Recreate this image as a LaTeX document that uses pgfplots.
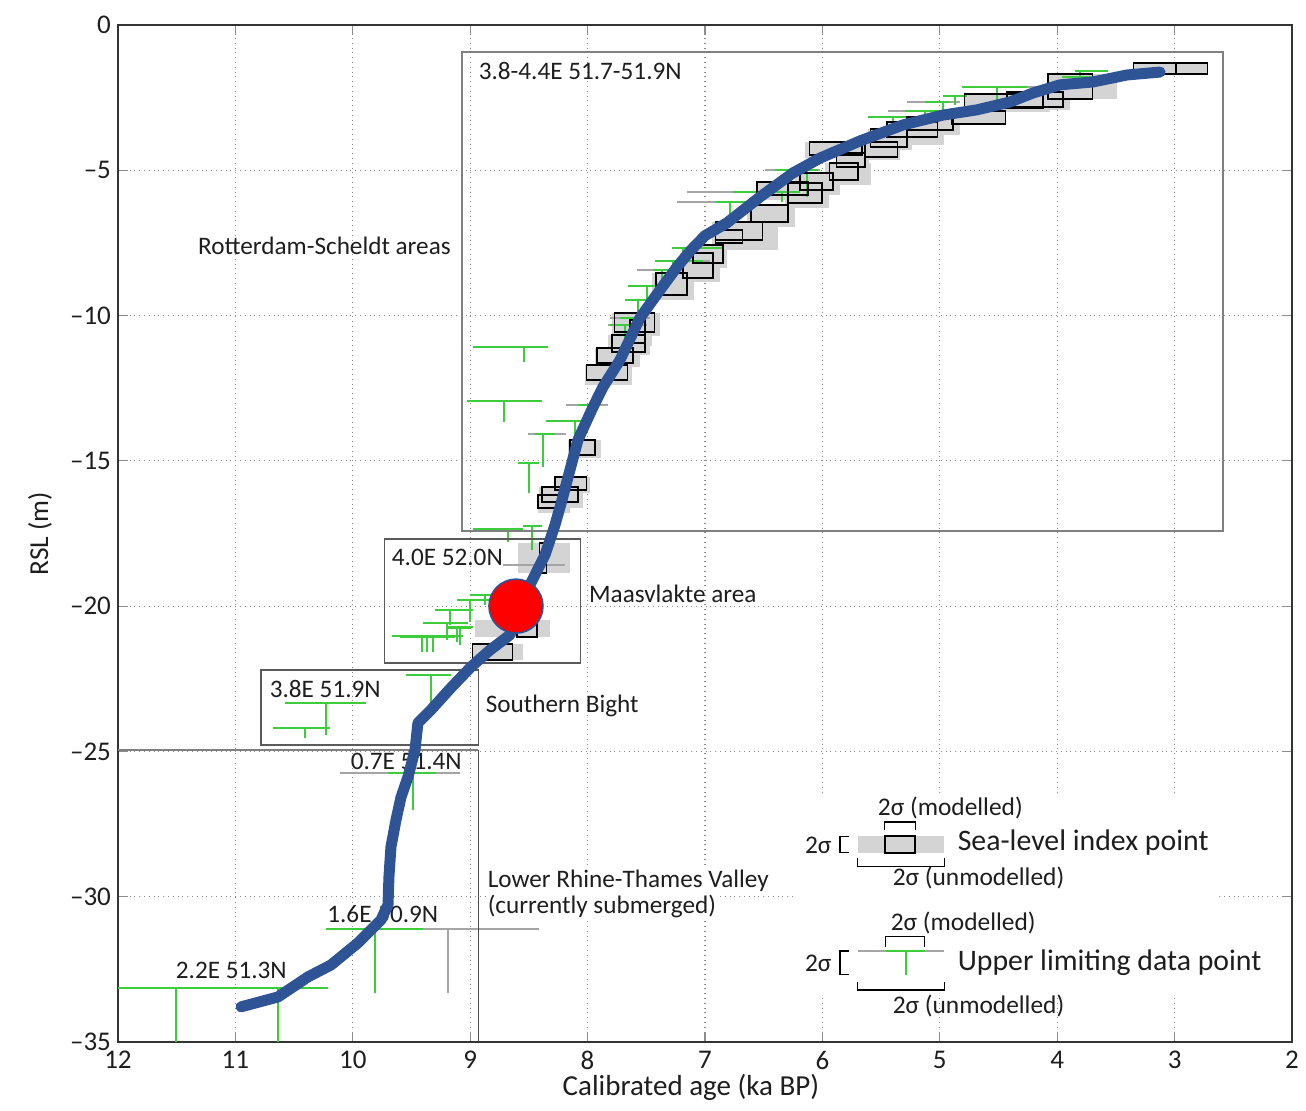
\documentclass[border=0pt]{standalone}
\usepackage{fontspec}
\setmainfont{Carlito}
\usepackage{pgfplots}
\usepackage{pgfplotstable}
\pgfplotsset{compat=1.18}

\definecolor{slipfill}{RGB}{212,212,212}
\definecolor{limitgreen}{RGB}{60,205,60}
\definecolor{unmodgray}{RGB}{165,165,165}
\definecolor{curveblue}{RGB}{47,84,150}
\definecolor{framegray}{RGB}{128,128,128}
\definecolor{txt}{RGB}{30,30,30}

% Sea-level index points, modelled 2-sigma boxes: age range (ka BP), RSL range (m)
\pgfplotstableread{
a1    a2    r1      r2
3.35  2.99  -1.31   -1.69
2.99  2.72  -1.31   -1.69
4.08  3.70  -1.69   -2.55
4.43  3.95  -2.31   -2.82
4.79  4.12  -2.37   -2.86
4.90  4.44  -2.96   -3.41
5.28  4.89  -3.17   -3.61
5.45  5.02  -3.34   -3.85
5.59  5.28  -3.58   -4.20
5.64  5.36  -4.03   -4.54
6.11  5.66  -4.03   -4.47
5.88  5.64  -4.40   -4.89
5.94  5.70  -4.75   -5.33
6.19  5.91  -5.09   -5.68
6.29  6.00  -5.44   -6.13
6.56  6.12  -5.40   -5.85
6.61  6.29  -6.19   -6.78
6.91  6.51  -6.78   -7.40
6.91  6.68  -7.05   -7.50
7.10  6.85  -7.57   -8.19
7.19  6.93  -7.85   -8.71
7.42  7.15  -8.53   -9.29
7.64  7.51  -10.15  -10.94
7.77  7.43  -9.91   -10.56
7.79  7.51  -10.67  -11.25
7.92  7.61  -11.12  -11.63
8.01  7.66  -11.70  -12.22
8.15  7.94  -14.28  -14.80
8.28  8.01  -15.55  -16.00
8.39  8.08  -15.90  -16.41
8.42  8.22  -16.17  -16.62
8.41  8.35  -17.83  -18.86
8.60  8.43  -20.58  -21.06
8.98  8.64  -21.30  -21.85
}\modbox

% Sea-level index points, unmodelled 2-sigma age ranges
\pgfplotstableread{
a1    a2    r1      r2
3.35  2.72  -1.31   -1.69
4.08  3.49  -1.69   -2.55
4.43  3.89  -2.31   -2.92
4.79  4.06  -2.37   -2.99
4.90  4.44  -2.96   -3.41
5.28  4.83  -3.17   -3.79
5.45  4.96  -3.34   -4.13
5.61  5.24  -3.58   -4.30
5.68  5.34  -4.03   -4.65
6.15  5.64  -4.03   -4.58
5.88  5.60  -4.40   -4.95
5.98  5.59  -4.75   -5.51
6.23  5.85  -5.09   -5.85
6.32  5.94  -5.44   -6.30
6.56  6.06  -5.40   -6.02
6.64  6.23  -6.19   -6.95
6.94  6.38  -6.78   -7.74
6.91  6.62  -7.05   -7.60
7.13  6.81  -7.57   -8.36
7.21  6.87  -7.85   -8.84
7.45  7.09  -8.53   -9.46
7.64  7.45  -10.15  -11.05
7.79  7.38  -9.91   -10.70
7.83  7.47  -10.67  -11.36
7.94  7.55  -11.12  -11.77
8.02  7.62  -11.70  -12.39
8.17  7.89  -14.28  -14.90
8.28  7.98  -15.55  -16.10
8.41  8.04  -15.90  -16.62
8.42  8.15  -16.17  -16.80
8.59  8.15  -17.83  -18.86
8.96  8.32  -20.48  -21.06
8.98  8.55  -21.30  -21.85
}\unmodbox

% Upper limiting data points: unmodelled age range, modelled age range,
% age of the point, top (RSL) and lower end of the vertical bar
\pgfplotstableread{
u1     u2     m1     m2     v      top     bot
3.85   3.57   3.85   3.57   3.81   -1.58   -1.89
3.96   3.64   3.96   3.64   3.81   -1.79   -2.06
4.81   4.10   4.81   4.26   4.51   -2.13   -2.58
5.28   4.83   5.13   4.91   4.97   -2.65   -3.27
4.97   4.77   4.97   4.77   4.87   -2.44   -2.75
5.44   5.00   5.30   5.00   5.13   -2.96   -3.44
5.61   5.28   5.61   5.28   5.40   -3.17   -3.54
6.49   6.02   6.40   6.04   6.13   -4.99   -5.92
7.15   6.53   6.76   6.28   6.56   -5.75   -6.19
7.24   6.62   6.91   6.62   6.79   -6.09   -6.54
6.45   6.19   6.45   6.19   6.34   -5.75   -6.09
7.28   6.85   7.28   6.85   7.19   -7.67   -8.16
7.43   6.96   7.43   7.02   7.27   -8.12   -8.60
7.58   7.21   7.44   7.24   7.37   -8.43   -8.88
7.66   7.38   7.66   7.41   7.49   -8.98   -9.64
7.68   7.43   7.68   7.43   7.57   -9.46   -9.88
7.81   7.47   7.72   7.55   7.64   -10.08  -10.32
7.83   7.49   7.81   7.58   7.68   -10.32  -10.84
8.98   8.34   8.98   8.34   8.54   -11.08  -11.60
9.03   8.39   9.03   8.39   8.71   -12.94  -13.66
8.18   7.83   8.08   7.92   8.00   -13.08  -13.42
8.35   7.98   8.35   8.02   8.11   -13.63  -14.11
8.51   8.18   8.45   8.28   8.38   -14.07  -15.21
8.59   8.41   8.59   8.41   8.50   -15.07  -16.10
8.98   8.55   8.98   8.55   8.68   -17.34  -17.79
8.55   8.39   8.55   8.39   8.47   -17.24  -18.07
9.00   8.81   9.00   8.81   8.87   -19.61  -19.96
9.11   8.83   9.11   8.83   9.00   -19.79  -20.54
9.30   8.98   9.30   8.98   9.17   -20.13  -20.65
9.40   9.02   9.40   9.02   9.20   -20.58  -21.16
9.21   8.98   9.21   8.98   9.09   -20.71  -21.34
9.67   9.06   9.67   9.06   9.41   -21.03  -21.58
9.60   9.13   9.60   9.13   9.37   -21.06  -21.58
9.51   9.09   9.51   9.09   9.32   -21.03  -21.58
9.21   9.00   9.21   9.00   9.11   -20.75  -21.23
9.55   9.16   9.55   9.16   9.33   -22.37  -23.33
10.58  9.89   10.58  9.89   10.23  -23.33  -24.43
10.68  10.19  10.68  10.19  10.41  -24.19  -24.54
10.11  9.09   9.70   9.29   9.49   -25.74  -27.01
10.23  9.40   10.23  9.40   9.81   -31.11  -33.31
12.00  11.00  12.00  11.00  11.51  -33.14  -35.00
11.06  10.21  11.06  10.21  10.64  -33.14  -35.00
}\limitpts

% modelled RSL curve
\pgfplotstableread{
age     rsl
10.952  -33.79
10.637  -33.45
10.382  -32.76
10.186  -32.35
9.956   -31.59
9.760   -30.80
9.700   -30.28
9.692   -29.32
9.675   -28.29
9.632   -27.36
9.589   -26.57
9.530   -25.88
9.470   -24.95
9.445   -24.02
9.334   -23.57
9.164   -22.81
8.993   -22.09
8.831   -21.51
8.661   -20.99
8.610   -20.13
8.491   -19.27
8.363   -18.24
8.278   -17.21
8.218   -16.35
8.150   -15.31
8.082   -14.28
7.954   -13.15
7.869   -12.46
7.724   -11.53
7.554   -10.08
7.383   -9.12
7.239   -8.33
7.120   -7.75
7.000   -7.25
6.813   -6.81
6.532   -5.92
6.250   -5.09
6.020   -4.58
5.680   -3.99
5.313   -3.44
4.973   -3.10
4.683   -2.92
4.402   -2.65
4.206   -2.34
3.976   -2.06
3.695   -1.96
3.405   -1.72
3.124   -1.62
}\rslcurve

% one closed rectangle per table row
\newcommand\drawboxes[2]{%
  \pgfplotstablegetrowsof{#1}%
  \pgfmathtruncatemacro\lastrow{\pgfplotsretval-1}%
  \pgfplotsinvokeforeach{0,...,\lastrow}{%
    \pgfplotstablegetelem{##1}{a1}\of{#1}\let\Aone\pgfplotsretval
    \pgfplotstablegetelem{##1}{a2}\of{#1}\let\Atwo\pgfplotsretval
    \pgfplotstablegetelem{##1}{r1}\of{#1}\let\Rone\pgfplotsretval
    \pgfplotstablegetelem{##1}{r2}\of{#1}\let\Rtwo\pgfplotsretval
    \edef\next{\noexpand\addplot[\unexpanded{#2}] coordinates
      {(\Aone,\Rone) (\Atwo,\Rone) (\Atwo,\Rtwo) (\Aone,\Rtwo)} -- cycle;}%
    \next
  }%
}

% one T-shaped upper limit per table row
\newcommand\drawlimits[1]{%
  \pgfplotstablegetrowsof{#1}%
  \pgfmathtruncatemacro\lastrow{\pgfplotsretval-1}%
  \pgfplotsinvokeforeach{0,...,\lastrow}{%
    \pgfplotstablegetelem{##1}{u1}\of{#1}\let\Uone\pgfplotsretval
    \pgfplotstablegetelem{##1}{u2}\of{#1}\let\Utwo\pgfplotsretval
    \pgfplotstablegetelem{##1}{m1}\of{#1}\let\Mone\pgfplotsretval
    \pgfplotstablegetelem{##1}{m2}\of{#1}\let\Mtwo\pgfplotsretval
    \pgfplotstablegetelem{##1}{v}\of{#1}\let\Vage\pgfplotsretval
    \pgfplotstablegetelem{##1}{top}\of{#1}\let\Top\pgfplotsretval
    \pgfplotstablegetelem{##1}{bot}\of{#1}\let\Bot\pgfplotsretval
    \edef\next{%
      \noexpand\addplot[unmodgray, line width=0.7pt] coordinates {(\Uone,\Top) (\Utwo,\Top)};
      \noexpand\addplot[limitgreen, line width=1pt] coordinates {(\Mone,\Top) (\Mtwo,\Top)};
      \noexpand\addplot[limitgreen, line width=1pt] coordinates {(\Vage,\Top) (\Vage,\Bot)};}%
    \next
  }%
}

\newcommand\lblfont{\fontsize{12.6}{14}\selectfont}
\newcommand\keyfont{\fontsize{12.7}{14}\selectfont}
\newcommand\keybigfont{\fontsize{14.9}{17}\selectfont}
\newcommand\tickfont{\fontsize{13.5}{15}\selectfont}
\newcommand\axlabelfont{\fontsize{14.5}{16}\selectfont}

\begin{document}
\begin{tikzpicture}
\begin{axis}[
  at={(0,0)}, anchor=south west,
  scale only axis, width=587pt, height=508.5pt,
  x dir=reverse,
  xmin=2, xmax=12, ymin=-35, ymax=0,
  xtick={2,3,...,12},
  xticklabels={2,3,4,5,6,7,8,9,10,11,12},
  ytick={-35,-30,...,0},
  yticklabels={–35,–30,–25,–20,–15,–10,–5,0},
  tick align=inside, major tick length=5pt,
  tick style={black!45, line width=0.6pt},
  axis line style={black!80, line width=0.7pt},
  grid=major,
  major grid style={dotted, black!45, line width=0.6pt},
  ticklabel style={font=\tickfont, text=txt},
  xticklabel style={yshift=-1pt},
  /pgf/number format/assume math mode=true,
  xlabel={Calibrated age (ka BP)},
  ylabel={RSL (m)},
  xlabel style={font=\axlabelfont, text=txt, at={(axis description cs:0.488,0)}, anchor=center, yshift=-22.5pt, inner sep=0pt},
  ylabel style={font=\fontsize{13.7}{15}\selectfont, text=txt, at={(axis description cs:0,0.5)}, anchor=center, yshift=39pt, inner sep=0pt},
  no markers,
]

% unmodelled ranges of index points
\drawboxes{\unmodbox}{draw=none, fill=slipfill}

% upper limiting points
\drawlimits{\limitpts}
\addplot[unmodgray, line width=0.7pt] coordinates {(8.72,-18.58) (8.19,-18.58)};
\addplot[unmodgray, line width=0.7pt] coordinates {(9.40,-31.11) (8.41,-31.11)};
\addplot[unmodgray, line width=0.7pt] coordinates {(9.19,-31.11) (9.19,-33.31)};

% modelled ranges of index points
\drawboxes{\modbox}{draw=black, line width=0.9pt, fill=none}

% regional frames
\addplot[framegray, line width=0.8pt] coordinates {(9.07,-0.93) (2.59,-0.93) (2.59,-17.41) (9.07,-17.41)} -- cycle;
\addplot[framegray!70!black, line width=0.8pt] coordinates {(9.73,-17.69) (8.06,-17.69) (8.06,-21.95) (9.73,-21.95)} -- cycle;
\addplot[framegray!70!black, line width=0.8pt] coordinates {(10.78,-22.20) (8.93,-22.20) (8.93,-24.78) (10.78,-24.78)} -- cycle;
\addplot[framegray, line width=0.8pt] coordinates {(12,-24.95) (8.93,-24.95)};
\addplot[black!70, line width=0.8pt] coordinates {(8.93,-24.95) (8.93,-35)};

% region labels
\begin{scope}[every node/.style={font=\lblfont, text=txt, inner sep=0pt, anchor=west}]
\node at (axis cs:8.93,-1.58) {3.8-4.4E 51.7-51.9N};
\node at (axis cs:11.32,-7.61) {Rotterdam-Scheldt areas};
\node at (axis cs:9.67,-18.31) {4.0E 52.0N};
\node at (axis cs:7.99,-19.58) {Maasvlakte area};
\node at (axis cs:10.71,-22.85) {3.8E 51.9N};
\node at (axis cs:8.87,-23.43) {Southern Bight};
\node at (axis cs:10.02,-25.36) {0.7E 51.4N};
\node[fill=white, inner sep=1pt] at (axis cs:8.87,-29.46) {Lower Rhine-Thames Valley};
\node[fill=white, inner sep=1pt] at (axis cs:8.87,-30.32) {(currently submerged)};
\node at (axis cs:10.22,-30.59) {1.6E 50.9N};
\node at (axis cs:11.51,-32.52) {2.2E 51.3N};
\end{scope}

% RSL curve and the highlighted point
\addplot[curveblue, line width=5.5pt, line join=round, line cap=round] table[x=age, y=rsl] {\rslcurve};
\addplot[only marks, mark=*, mark size=13.5pt, mark options={fill=red, draw=curveblue, line width=0.8pt}] coordinates {(8.61,-20.0)};

% key
\addplot[draw=none, fill=white] coordinates {(6.23,-26.45) (2.66,-26.45) (2.66,-33.45) (6.23,-33.45)} -- cycle;
\addplot[draw=none, fill=slipfill] coordinates {(5.70,-27.91) (4.96,-27.91) (4.96,-28.49) (5.70,-28.49)} -- cycle;
\addplot[draw=black, line width=0.9pt] coordinates {(5.47,-27.91) (5.21,-27.91) (5.21,-28.49) (5.47,-28.49)} -- cycle;
\addplot[black, line width=0.6pt] coordinates {(5.47,-27.70) (5.47,-27.43) (5.21,-27.43) (5.21,-27.70)};
\addplot[black, line width=0.6pt] coordinates {(5.70,-28.66) (5.70,-28.97) (4.96,-28.97) (4.96,-28.66)};
\addplot[black, line width=0.6pt] coordinates {(5.77,-27.94) (5.85,-27.94) (5.85,-28.49) (5.77,-28.49)};
\addplot[unmodgray, line width=0.7pt] coordinates {(5.70,-31.87) (4.96,-31.87)};
\addplot[limitgreen, line width=1pt] coordinates {(5.46,-31.87) (5.13,-31.87)};
\addplot[limitgreen, line width=1pt] coordinates {(5.29,-31.87) (5.29,-32.69)};
\addplot[black, line width=0.6pt] coordinates {(5.46,-31.73) (5.46,-31.38) (5.13,-31.38) (5.13,-31.73)};
\addplot[black, line width=0.6pt] coordinates {(5.70,-32.93) (5.70,-33.21) (4.96,-33.21) (4.96,-32.93)};
\addplot[black, line width=0.6pt] coordinates {(5.77,-31.87) (5.85,-31.87) (5.85,-32.69) (5.77,-32.69)};

\begin{scope}[every node/.style={font=\keyfont, text=txt, inner sep=0pt}]
\node at (axis cs:4.91,-26.94) {2σ (modelled)};
\node[anchor=east] at (axis cs:5.92,-28.22) {2σ};
\node[anchor=west, font=\keybigfont] at (axis cs:4.85,-28.15) {Sea-level index point};
\node at (axis cs:4.67,-29.35) {2σ (unmodelled)};
\node at (axis cs:4.80,-30.90) {2σ (modelled)};
\node[anchor=east] at (axis cs:5.92,-32.28) {2σ};
\node[anchor=west, font=\keybigfont] at (axis cs:4.85,-32.28) {Upper limiting data point};
\node at (axis cs:4.67,-33.76) {2σ (unmodelled)};
\end{scope}
\end{axis}
\pgfresetboundingbox
\useasboundingbox (-59pt,-34pt) rectangle (594pt,521pt);
\end{tikzpicture}
\end{document}
